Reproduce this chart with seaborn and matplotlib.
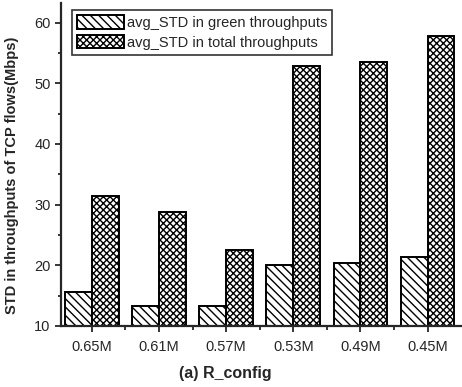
import pandas as pd
import numpy as np
import matplotlib.pyplot as plt
import seaborn as sns

sns.set_style('ticks')
plt.rcParams['font.family'] = ['Liberation Sans', 'DejaVu Sans']
plt.rcParams['hatch.linewidth'] = 1.0

configs = ['0.65M', '0.61M', '0.57M', '0.53M', '0.49M', '0.45M']
green_std = [15.5, 13.2, 13.2, 20.0, 20.3, 21.3]
total_std = [31.4, 28.8, 22.5, 52.8, 53.5, 57.8]
series = ['avg_STD in green throughputs', 'avg_STD in total throughputs']
hatches = ['\\\\\\\\', 'xxxxx']

df = pd.DataFrame({
    'config': configs * 2,
    'std': green_std + total_std,
    'series': [series[0]] * len(configs) + [series[1]] * len(configs),
})

fig = plt.figure(figsize=(4.62, 3.87), dpi=100)
ax = fig.add_axes([0.132, 0.158, 0.866, 0.834])
sns.barplot(data=df, x='config', y='std', hue='series', order=configs,
            hue_order=series, palette=['white', 'white'], edgecolor='black',
            linewidth=1.4, width=0.8, ax=ax, legend=True)

for cont, h in zip(ax.containers, hatches):
    for bar in cont:
        bar.set_hatch(h)

ax.set_ylim(10, 63.2)
ax.set_xlim(-0.46, 5.5)
ax.set_yticks([10, 20, 30, 40, 50, 60])
ax.set_yticks([15, 25, 35, 45, 55], minor=True)
ax.set_xticks(np.arange(0.5, 5, 1), minor=True)
ax.tick_params(axis='both', labelsize=10.5, width=1.3, length=4, direction='out')
ax.tick_params(axis='y', which='minor', length=2.5, width=1.3)
ax.tick_params(axis='x', which='minor', length=3, width=1.3)
ax.tick_params(axis='x', pad=6)
ax.spines['top'].set_visible(False)
ax.spines['right'].set_visible(False)
for s in ['left', 'bottom']:
    ax.spines[s].set_linewidth(1.6)

ax.set_xlabel('(a) R_config', fontsize=11.5, fontweight='bold')
ax.xaxis.set_label_coords(0.41, -0.125)
ax.set_ylabel('STD in throughputs of TCP flows(Mbps)', fontsize=10.5, fontweight='bold')
ax.yaxis.set_label_coords(-0.105, 0.465)

leg = ax.legend(loc='upper left', bbox_to_anchor=(0.01, 1.0), fontsize=10.5,
                frameon=True, fancybox=False, edgecolor='black',
                handlelength=3.2, handleheight=1.0, handletextpad=0.2,
                borderpad=0.35, labelspacing=0.35)
leg.get_frame().set_linewidth(1.2)
for patch, h in zip(leg.get_patches(), hatches):
    patch.set_hatch(h)
    patch.set_facecolor('white')
    patch.set_edgecolor('black')

fig.savefig('out.png', dpi=100)
